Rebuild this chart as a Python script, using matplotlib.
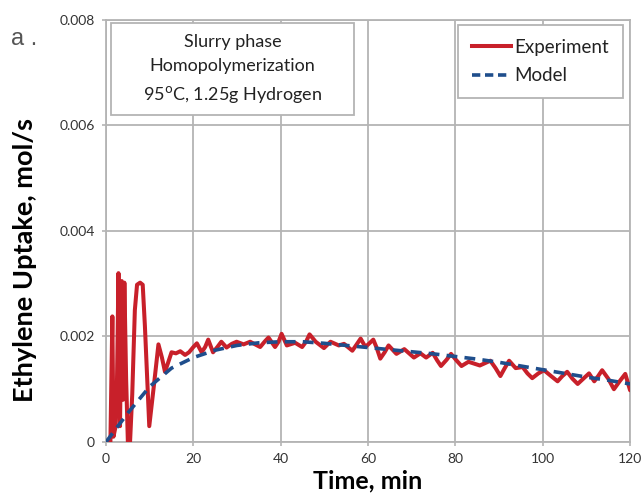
import matplotlib
matplotlib.use("Agg")
import matplotlib.pyplot as plt
from matplotlib.lines import Line2D
from matplotlib.patches import Rectangle

plt.rcParams['font.family'] = ['Lato', 'DejaVu Sans']

# Experiment data (time in min, uptake in mol/s)
exp_t = [0, 1.0, 1.45, 1.7, 2.2, 2.5, 2.85, 3.2, 3.6, 3.9, 4.2, 4.6, 5.0, 5.5, 6.0, 6.6, 7.1,
         7.8, 8.4, 8.9, 9.9, 11.0, 12.0, 12.8, 13.5, 14.2, 15.0, 16.0, 17.0, 18.1, 19.0,
         20.0, 20.8, 21.9, 22.7, 23.4, 24.5, 25.5, 26.4, 27.6,
         28.8, 29.9, 31.5, 33.0, 35.3, 36.3, 37.2, 38.7, 39.5, 40.2, 41.4, 43.3, 44.9, 45.8,
         46.6, 48.0, 49.9, 51.4,
         53.3, 54.5, 56.4, 57.4, 58.3, 59.4, 61.2, 62.0, 62.8, 63.8, 64.7, 66.5, 68.3, 70.5,
         72.0, 73.3, 74.8,
         75.8, 76.7, 78.0, 79.0, 80.2, 81.4, 83.0, 85.6, 88.0, 89.2, 90.3, 91.3, 92.3, 93.8,
         95.4, 96.5, 97.6, 99.0, 100.3, 101.9, 103.4,
         104.5, 105.6, 106.8, 108.0, 109.3, 110.6, 111.8, 112.7, 113.6, 115.0, 116.3, 117.6,
         118.9, 120.0]
exp_v = [0, 0.0, 0.00238, 0.0001, 0.0003, 0.0011, 0.0032, 0.0003, 0.00305, 0.0008, 0.00302,
         0.0012, 0.0, 0.0, 0.0009, 0.0025, 0.00298,
         0.00302, 0.00298, 0.0022, 0.0003, 0.0011, 0.00185, 0.0016, 0.00133, 0.0015,
         0.0017, 0.00168, 0.00172, 0.00165, 0.0017,
         0.0018, 0.00187, 0.0017, 0.0018, 0.00194, 0.0017, 0.0018, 0.0019, 0.00179,
         0.00186, 0.0019, 0.00185, 0.0019, 0.0018, 0.0019, 0.00198, 0.0018, 0.0019, 0.00205,
         0.00183, 0.00188, 0.0018, 0.0019,
         0.00204, 0.0019, 0.00178, 0.0019,
         0.00183, 0.00186, 0.00173, 0.00185, 0.00196, 0.0018, 0.00194, 0.00178, 0.00158,
         0.0017, 0.00183, 0.00167, 0.00176, 0.0016, 0.00168, 0.0016, 0.00169,
         0.00155, 0.00144, 0.00156, 0.00167, 0.00155, 0.00144, 0.00152, 0.00145, 0.00154,
         0.0014, 0.00125, 0.0014, 0.00154, 0.0014,
         0.00142, 0.0013, 0.00121, 0.0013, 0.00136, 0.00125, 0.00115,
         0.00125, 0.00133, 0.0012, 0.0011, 0.0012, 0.0013, 0.00115, 0.00125, 0.00136, 0.0012,
         0.0010, 0.00115, 0.00129, 0.00098]

# Model data
mod_t = [0, 5, 10, 15, 20, 25, 30, 35, 40, 45, 50, 55, 60, 65, 70, 75, 80, 85, 90, 95,
         100, 105, 110, 115, 120]
mod_v = [0, 0.00055, 0.00105, 0.0014, 0.0016, 0.00174, 0.00183, 0.00188, 0.0019, 0.0019,
         0.00187, 0.00183, 0.00179, 0.00175, 0.00171, 0.00167, 0.00162, 0.00157, 0.00151,
         0.00144, 0.00137, 0.0013, 0.00123, 0.00117, 0.0011]

x_ticks = [0, 20, 40, 60, 80, 100, 120]
y_ticks = [0, 0.002, 0.004, 0.006, 0.008]
y_labels = ['0', '0.002', '0.004', '0.006', '0.008']

fig = plt.figure(figsize=(6.43, 4.96), dpi=100)
ax = fig.add_axes([0.1649, 0.1089, 0.815, 0.851])

red = '#c8202a'
blue = '#1f4e8c'
gray = '#b4b4b4'
ax.plot(exp_t, exp_v, color=red, lw=2.9, solid_joinstyle='round', solid_capstyle='round',
        zorder=3)
ax.plot(mod_t, mod_v, color=blue, lw=2.6, linestyle=(0, (3.0, 2.0)), zorder=4)

ax.set_xlim(0, 120)
ax.set_ylim(0, 0.008)
ax.set_xticks(x_ticks)
ax.set_yticks(y_ticks)
ax.set_yticklabels(y_labels)
ax.tick_params(length=3, width=1.2, color=gray, labelsize=10, labelcolor='#333333', pad=5)
ax.grid(True, color=gray, lw=1.3)
ax.set_axisbelow(True)
for s in ax.spines.values():
    s.set_color(gray)
    s.set_linewidth(1.3)

ax.set_xlabel('Time, min', fontsize=18, fontweight='bold', labelpad=3)
ax.set_ylabel('Ethylene Uptake, mol/s', fontsize=19.5, fontweight='bold', labelpad=10)
ax.yaxis.set_label_coords(-0.132, 0.43)

fig.text(0.017, 0.91, 'a .', fontsize=17, color='#555555', fontfamily='Liberation Sans')

ax.add_patch(Rectangle((0.0096, 0.774), 0.4627, 0.219, transform=ax.transAxes,
                       fc='white', ec=gray, lw=1.3, zorder=5))
ax.text(0.241, 0.883, 'Slurry phase\nHomopolymerization\n95$^{\\mathrm{o}}$C, 1.25g Hydrogen',
        transform=ax.transAxes, ha='center', va='center', fontsize=13, linespacing=1.62,
        color='#222222', zorder=6)

handles = [Line2D([0], [0], color=red, lw=2.9),
           Line2D([0], [0], color=blue, lw=2.6, linestyle=(0, (2.3, 1.3)))]
leg = ax.legend(handles, ['Experiment', 'Model'], loc='upper right',
                bbox_to_anchor=(0.9866, 0.988), fontsize=13.5, fancybox=False,
                framealpha=1, edgecolor=gray, handlelength=2.05, handletextpad=0.2,
                labelspacing=0.6, borderpad=0.75, borderaxespad=0)
leg.get_frame().set_linewidth(1.3)
leg.set_zorder(6)
for txt in leg.get_texts():
    txt.set_color('#222222')

fig.savefig('out.png', dpi=100)
